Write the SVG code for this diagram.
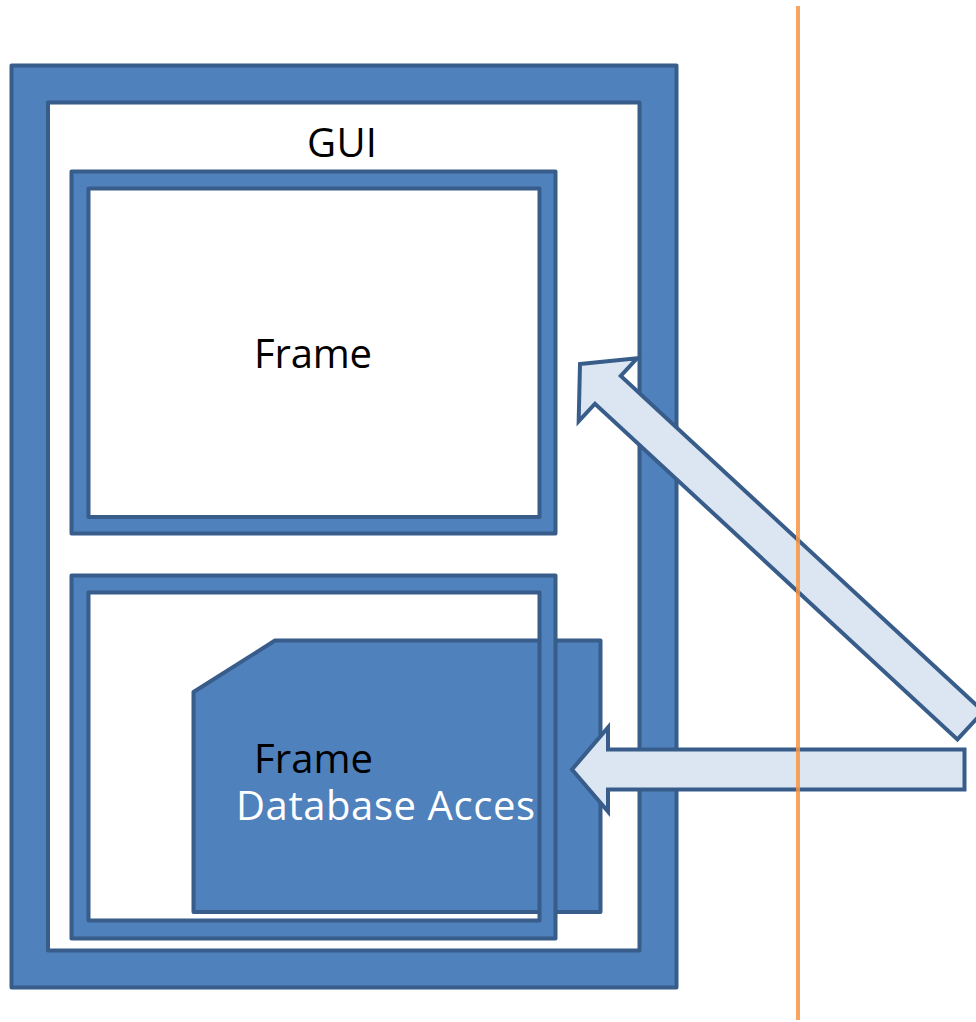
<svg xmlns="http://www.w3.org/2000/svg" width="976" height="1022" viewBox="0 0 976 1022">
<style>
.band{fill:#4F81BD;stroke:#385D8A;stroke-width:4;fill-rule:evenodd;stroke-linejoin:round}
.arrow{fill:#DCE6F2;stroke:#385D8A;stroke-width:4;stroke-linejoin:miter}
.lbl{font-family:"Open Sans","Noto Sans","Liberation Sans",sans-serif;font-size:40px;fill:#000}
.wlbl{font-family:"Open Sans","Noto Sans","Liberation Sans",sans-serif;font-size:40px;fill:#FFFFFF}
</style>
<rect x="0" y="0" width="976" height="1022" fill="#FFFFFF"/>
<g id="gui">
<path class="band" d="M11.5,65.5 H676.5 V987.5 H11.5 Z M48,102.5 V950.5 H639.5 V102.5 Z"/>
<text class="lbl" x="307" y="157" textLength="70">GUI</text>
</g>
<g id="frame1">
<path class="band" d="M71.5,171.5 H555.5 V533.5 H71.5 Z M88.5,188.5 V517 H539.5 V188.5 Z"/>
<text class="lbl" x="254" y="368" textLength="118">Frame</text>
</g>
<g id="database">
<path d="M275,640.5 H600.5 V912 H193.5 V692 Z" fill="#4F81BD" stroke="#385D8A" stroke-width="4" stroke-linejoin="round"/>
<text class="wlbl" x="236" y="820" textLength="299">Database Acces</text>
</g>
<g id="frame2">
<path class="band" d="M71.5,575.5 H555.5 V938.5 H71.5 Z M88.5,592.5 V920.5 H539.5 V592.5 Z"/>
<text class="lbl" x="254" y="773" textLength="119">Frame</text>
</g>
<g id="connectors">
<path class="arrow" transform="translate(580,364) rotate(42.8)" d="M0,0 L38,-43 L38,-19 L532,-19 L532,19 L38,19 L38,43 Z"/>
<path class="arrow" d="M572,769.5 L608,727.5 L608,749.5 L964.5,749.5 L964.5,789.5 L608,789.5 L608,811.5 Z"/>
</g>
<g id="divider">
<line x1="798" y1="6" x2="798" y2="1020" stroke="#F79646" stroke-width="4" opacity="0.85"/>
</g>
</svg>
